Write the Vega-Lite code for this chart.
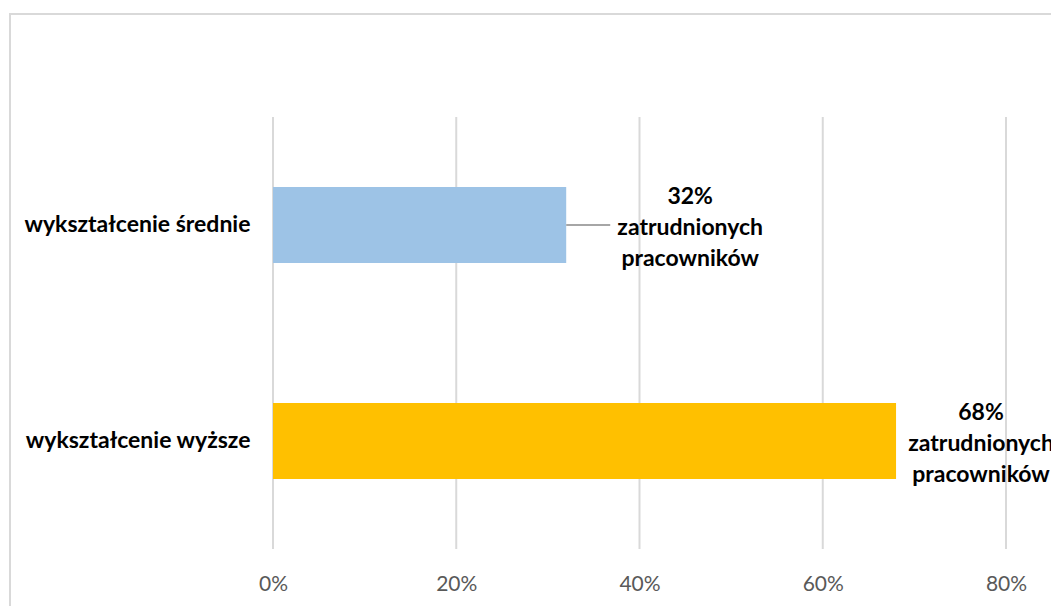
{
  "$schema": "https://vega.github.io/schema/vega-lite/v6.json",
  "autosize": {"type": "none"},
  "padding": {"left": 10, "top": 14, "right": -29, "bottom": -28},
  "width": 1070,
  "height": 620,
  "background": "white",
  "config": {"view": {"stroke": "#D9D9D9", "strokeWidth": 2}},
  "datasets": {
    "bars": [
      {"kategoria": "wykształcenie średnie", "udzial": 0.32, "etykieta": "32%\nzatrudnionych\npracowników"},
      {"kategoria": "wykształcenie wyższe", "udzial": 0.68, "etykieta": "68%\nzatrudnionych\npracowników"}
    ],
    "grid": [{"t": 0}, {"t": 0.2}, {"t": 0.4}, {"t": 0.6}, {"t": 0.8}]
  },
  "resolve": {"scale": {"y": "independent"}},
  "layer": [
    {
      "data": {"name": "grid"},
      "mark": {"type": "rule", "color": "#D9D9D9", "strokeWidth": 2},
      "encoding": {
        "x": {"field": "t", "type": "quantitative", "scale": {"domain": [0, 1], "range": [263, 1179.25], "nice": false, "zero": false},
          "axis": {"values": [0, 0.2, 0.4, 0.6, 0.8], "format": ".0%", "grid": false, "domain": false, "ticks": false, "offset": -85, "labelPadding": 24, "labelFont": "Lato", "labelFontSize": 21, "labelColor": "#595959", "title": null, "labelOverlap": false, "labelFlush": false}},
        "y": {"datum": 0, "type": "quantitative", "scale": {"domain": [0, 1], "range": [103, 535], "nice": false, "zero": false}, "axis": null},
        "y2": {"datum": 1}
      }
    },
    {
      "data": {"name": "bars"},
      "layer": [
        {
          "mark": {"type": "bar", "height": {"band": 0.352}},
          "encoding": {
            "x": {"field": "udzial", "type": "quantitative"},
            "y": {"field": "kategoria", "type": "nominal", "scale": {"domain": ["wykształcenie średnie", "wykształcenie wyższe"], "range": [103, 535], "paddingInner": 0, "paddingOuter": 0},
              "axis": {"grid": false, "domain": false, "ticks": false, "offset": -263, "labelPadding": 23, "labelFont": "Lato", "labelFontWeight": "bold", "labelFontSize": 23, "labelColor": "#000000", "labelLimit": 400, "title": null}},
            "color": {"field": "kategoria", "type": "nominal", "scale": {"domain": ["wykształcenie średnie", "wykształcenie wyższe"], "range": ["#9DC3E6", "#FFC000"]}, "legend": null}
          }
        },
        {
          "transform": [{"filter": "datum.kategoria === 'wykształcenie średnie'"}],
          "mark": {"type": "rule", "color": "#A6A6A6", "strokeWidth": 2, "x2Offset": 44},
          "encoding": {
            "x": {"field": "udzial", "type": "quantitative"},
            "x2": {"field": "udzial"},
            "y": {"field": "kategoria", "type": "nominal"}
          }
        },
        {
          "transform": [{"filter": "datum.kategoria === 'wykształcenie średnie'"}],
          "mark": {"type": "text", "align": "center", "baseline": "middle", "dx": 124, "dy": -28, "lineBreak": "\n", "lineHeight": 31, "font": "Lato", "fontWeight": "bold", "fontSize": 23, "color": "#000000"},
          "encoding": {
            "x": {"field": "udzial", "type": "quantitative"},
            "y": {"field": "kategoria", "type": "nominal"},
            "text": {"field": "etykieta"}
          }
        },
        {
          "transform": [{"filter": "datum.kategoria === 'wykształcenie wyższe'"}],
          "mark": {"type": "text", "align": "center", "baseline": "middle", "dx": 85, "dy": -28, "lineBreak": "\n", "lineHeight": 31, "font": "Lato", "fontWeight": "bold", "fontSize": 23, "color": "#000000"},
          "encoding": {
            "x": {"field": "udzial", "type": "quantitative"},
            "y": {"field": "kategoria", "type": "nominal"},
            "text": {"field": "etykieta"}
          }
        }
      ]
    }
  ]
}
